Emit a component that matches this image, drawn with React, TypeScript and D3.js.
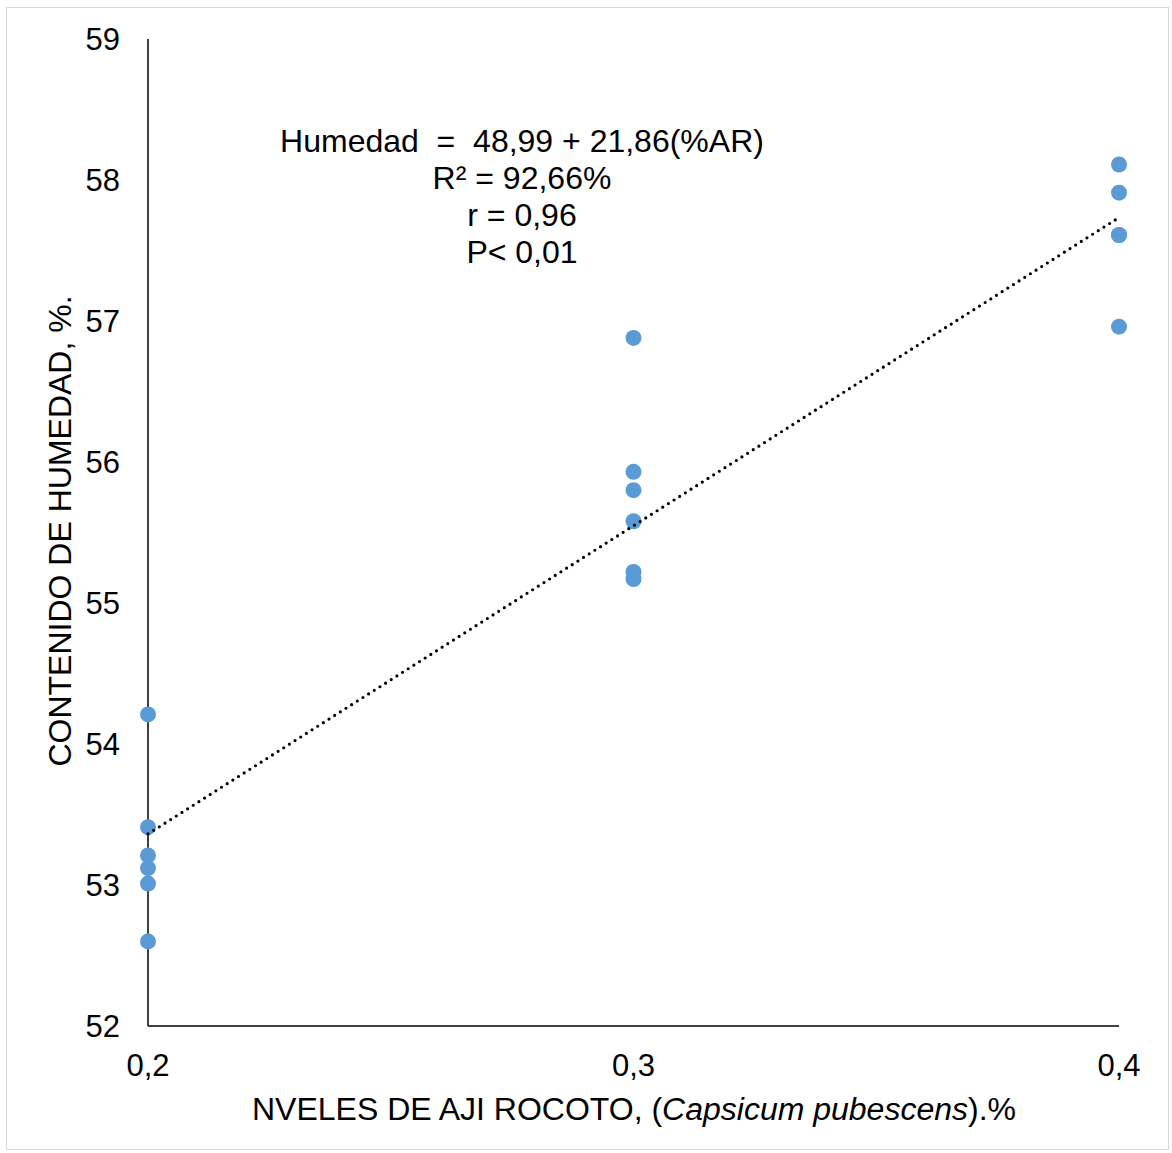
import React from "react";
import * as d3 from "d3";

// Moisture content (%) by level of rocoto pepper (%)
const level02 = [54.21, 53.41, 53.21, 53.12, 53.01, 52.6];
const level03 = [56.88, 55.93, 55.8, 55.58, 55.22, 55.17];
const level04 = [58.11, 57.91, 57.61, 57.61, 56.96];
const levels = [0.2, 0.3, 0.4];
const xTicks = [0.2, 0.3, 0.4];
const yTicks = [52, 53, 54, 55, 56, 57, 58, 59];
const intercept = 48.99;
const slope = 21.86;
const annotation = ["Humedad  =  48,99 + 21,86(%AR)", "R² = 92,66%", "r = 0,96", "P< 0,01"];

const W = 1172;
const H = 1153;

export default function App() {
  const x = d3.scaleLinear().domain([0.2, 0.4]).range([148, 1119]);
  const y = d3.scaleLinear().domain([52, 59]).range([1026, 39]);
  const groups = [level02, level03, level04];
  const points = groups.flatMap((vals, i) => vals.map((v) => ({ x: levels[i], y: v })));
  const fmt = (v: number) => String(v).replace(".", ",");
  const line = d3
    .line<number>()
    .x((d) => x(d))
    .y((d) => y(intercept + slope * d));
  const font = "'Liberation Sans', Arial, sans-serif";

  return (
    <svg
      width={W}
      height={H}
      style={{ position: "absolute", left: 0, top: 0, background: "#fff" }}
      fontFamily={font}
    >
      <rect x={6.5} y={7.5} width={1162} height={1142} fill="#fff" stroke="#d9d9d9" strokeWidth={1} />
      {/* axes */}
      <line x1={x(0.2)} x2={x(0.2)} y1={y(59)} y2={y(52)} stroke="#000" strokeWidth={1.5} />
      <line x1={x(0.2)} x2={x(0.4)} y1={y(52)} y2={y(52)} stroke="#000" strokeWidth={1.5} />
      {yTicks.map((t) => (
        <text key={t} x={120} y={y(t) + 11} fontSize={31} textAnchor="end" fill="#000">
          {t}
        </text>
      ))}
      {xTicks.map((t) => (
        <text key={t} x={x(t)} y={1076} fontSize={31} textAnchor="middle" fill="#000">
          {fmt(t)}
        </text>
      ))}
      {/* points */}
      {points.map((p, i) => (
        <circle key={i} cx={x(p.x)} cy={y(p.y)} r={8} fill="#5b9bd5" />
      ))}
      {/* linear trend */}
      <path
        d={line([0.2, 0.4]) || ""}
        fill="none"
        stroke="#000"
        strokeWidth={3.2}
        strokeLinecap="round"
        strokeDasharray="0 6.7"
      />
      {/* regression annotation */}
      {annotation.map((s, i) => (
        <text key={i} x={522} y={152 + i * 37} fontSize={32} textAnchor="middle" fill="#000" xmlSpace="preserve">
          {s}
        </text>
      ))}
      {/* axis titles */}
      <text
        transform={`translate(71,531) rotate(-90)`}
        fontSize={32}
        textAnchor="middle"
        fill="#000"
      >
        CONTENIDO DE HUMEDAD, %.
      </text>
      <text x={634} y={1120} fontSize={31} textAnchor="middle" fill="#000" textLength={764} lengthAdjust="spacingAndGlyphs">
        NVELES DE AJI ROCOTO, (<tspan fontStyle="italic">Capsicum pubescens</tspan>).%
      </text>
    </svg>
  );
}
